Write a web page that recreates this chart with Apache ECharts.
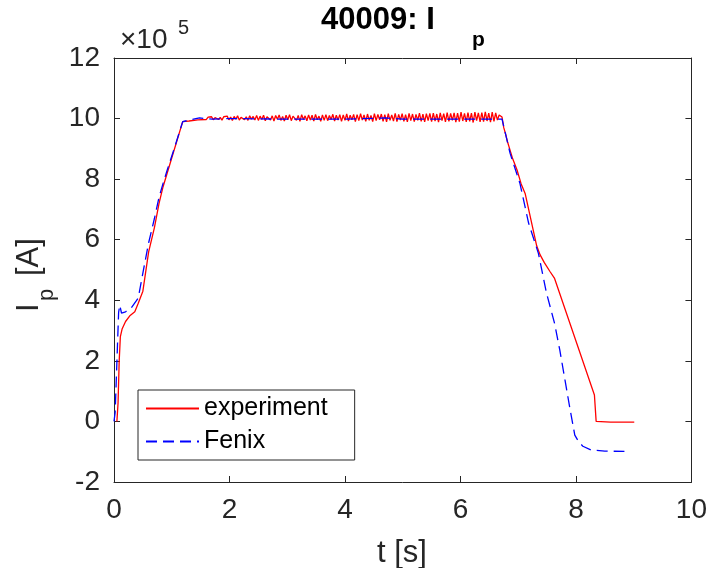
<!DOCTYPE html>
<html>
<head>
<meta charset="utf-8">
<script src="https://cdn.jsdelivr.net/npm/echarts@6/dist/echarts.min.js"></script>
<style>
html,body{margin:0;padding:0;background:#fff;}
#chart{width:710px;height:568px;}
</style>
</head>
<body>
<div id="chart"></div>
<script>
// Values in units of 1e5 A, time in s
var xTicks = [0, 2, 4, 6, 8, 10];
var yTicks = [-2, 0, 2, 4, 6, 8, 10, 12];

// experiment: rise phase
var expRiseT = [0.05, 0.07, 0.09, 0.11, 0.14, 0.20, 0.28, 0.36, 0.42, 0.50, 0.60, 0.70, 0.78, 0.85, 1.00, 1.19, 1.30, 1.45];
var expRiseI = [0.00, 0.60, 2.00, 2.80, 3.05, 3.30, 3.50, 3.62, 3.90, 4.30, 5.60, 6.40, 7.20, 7.75, 8.70, 9.90, 9.92, 9.96];
// experiment: flat-top (noisy), sampled every 0.03 s from 1.60 s
var expFlatStart = 1.60, expFlatStep = 0.03;
var expFlatI = [
 9.97, 10.05, 9.99, 10.06, 9.96, 10.03, 10.07, 9.97, 10.04, 9.95, 10.06, 10.00, 10.08, 9.96, 10.05, 9.94, 10.07, 9.98, 10.09, 9.95,
 10.04, 10.08, 9.96, 10.06, 9.94, 10.09, 9.98, 10.07, 9.95, 10.10,
 9.94, 10.08, 9.97, 10.11, 9.93, 10.06, 10.12, 9.95, 10.09, 9.92, 10.10, 9.98, 10.12, 9.94, 10.07, 9.92, 10.11, 9.96, 10.13, 9.93,
 10.08, 10.12, 9.94, 10.10, 9.91, 10.13, 9.97, 10.09, 9.93, 10.12, 9.95, 10.11, 9.92, 10.14, 9.96, 10.08, 9.91, 10.12, 9.94, 10.13,
 9.93, 10.10, 9.97, 10.14, 9.92, 10.11, 9.95, 10.13, 9.91, 10.12,
 9.94, 10.15, 9.92, 10.11, 9.96, 10.14, 9.90, 10.13, 9.93, 10.16, 9.95, 10.12, 9.91, 10.15, 9.94, 10.10, 9.90, 10.16, 9.93, 10.14,
 9.96, 10.15, 9.91, 10.13, 9.89, 10.16, 9.94, 10.12, 9.92, 10.17, 9.90, 10.14, 9.95, 10.16, 9.91, 10.13, 9.89, 10.17, 9.93, 10.15,
 9.90, 10.14, 9.94, 10.18, 9.91, 10.15, 9.89, 10.16, 9.93, 10.17,
 9.90, 10.18, 9.92, 10.15, 9.88, 10.19, 9.93, 10.16, 9.89, 10.20, 9.91, 10.17, 9.94, 10.19, 9.88, 10.18, 9.90, 10.21, 9.92, 10.17,
 9.89, 10.20, 9.91, 10.18, 9.87, 10.21, 9.93, 10.19, 9.89, 10.20, 9.90, 10.22, 9.92, 10.18, 9.88, 10.21, 9.91, 10.19, 9.95, 10.12
];
// experiment: ramp-down
var expFallT = [6.72, 6.75, 6.78, 6.82, 6.86, 6.90, 6.94, 6.98, 7.05, 7.12, 7.32, 7.38, 7.45, 7.55, 7.63, 8.32, 8.35, 8.60, 9.01];
var expFallI = [10.05, 9.70, 9.50, 9.20, 8.95, 8.70, 8.50, 8.30, 7.85, 7.53, 5.80, 5.50, 5.25, 4.95, 4.72, 0.87, 0.00, -0.02, -0.02];

// Fenix simulation
var fenixT = [0.00, 0.02, 0.08, 0.10, 0.13, 0.20, 0.30, 0.42, 0.50, 0.60, 0.70, 0.78, 0.85, 0.93, 1.05, 1.19, 1.48, 1.70, 2.00, 3.00, 4.00, 4.70, 5.00, 6.00, 6.72,
             6.75, 6.86, 7.03, 7.18, 7.35, 7.49, 7.63, 7.72, 7.81, 7.90, 7.98, 8.05, 8.12, 8.26, 8.50, 8.84];
var fenixI = [0.00, 0.30, 3.60, 3.84, 3.58, 3.62, 3.75, 4.07, 4.90, 5.90, 6.70, 7.40, 7.86, 8.35, 9.05, 9.90, 10.02, 9.98, 10.00, 9.98, 9.98, 10.02, 9.98, 9.98, 9.98,
              9.95, 8.85, 7.86, 6.55, 5.55, 4.24, 3.24, 2.36, 1.37, 0.38, -0.45, -0.68, -0.82, -0.94, -0.98, -0.99];

var expData = [];
for (var i = 0; i < expRiseT.length; i++) expData.push([expRiseT[i], expRiseI[i]]);
for (var j = 0; j < expFlatI.length; j++) expData.push([+(expFlatStart + j * expFlatStep).toFixed(3), expFlatI[j]]);
for (var k = 0; k < expFallT.length; k++) expData.push([expFallT[k], expFallI[k]]);
var fenixData = fenixT.map(function (t, i) { return [t, fenixI[i]]; });

var TXT = '#262626';
var FONT = 'Liberation Sans, Arial, Helvetica, sans-serif';
var chart = echarts.init(document.getElementById('chart'), null, {renderer: 'canvas'});

function axisCommon() {
  return {
    axisLine: {show: true, onZero: false, lineStyle: {color: TXT, width: 1}},
    axisTick: {show: true, inside: true, length: 6, lineStyle: {color: TXT, width: 1}},
    splitLine: {show: false}
  };
}

var option = {
  backgroundColor: '#fff',
  animation: false,
  grid: {left: 114, right: 14, top: 58, bottom: 86, containLabel: false},
  xAxis: [
    Object.assign({type: 'value', min: xTicks[0], max: xTicks[xTicks.length - 1], interval: 2, position: 'bottom',
      axisLabel: {color: TXT, fontSize: 28, fontFamily: FONT, margin: 14}}, axisCommon()),
    Object.assign({type: 'value', min: xTicks[0], max: xTicks[xTicks.length - 1], interval: 2, position: 'top',
      axisLabel: {show: false}}, axisCommon())
  ],
  yAxis: [
    Object.assign({type: 'value', min: yTicks[0], max: yTicks[yTicks.length - 1], interval: 2, position: 'left',
      axisLabel: {color: TXT, fontSize: 28, fontFamily: FONT, margin: 14}}, axisCommon()),
    Object.assign({type: 'value', min: yTicks[0], max: yTicks[yTicks.length - 1], interval: 2, position: 'right',
      axisLabel: {show: false}}, axisCommon())
  ],
  legend: {
    show: true, orient: 'vertical', left: 138, top: 390,
    itemWidth: 53, itemHeight: 14, itemGap: 8,
    padding: [6, 27, 6, 7],
    backgroundColor: '#fff', borderColor: TXT, borderWidth: 1, borderRadius: 0,
    textStyle: {color: '#000', fontSize: 25, fontFamily: FONT},
    itemStyle: {opacity: 0},
    data: ['experiment', 'Fenix']
  },
  series: [
    {name: 'experiment', type: 'line', data: expData, showSymbol: false, symbol: 'none',
      lineStyle: {color: '#ff0000', width: 1.3}, itemStyle: {color: '#ff0000'}, z: 2},
    {name: 'Fenix', type: 'line', data: fenixData, showSymbol: false, symbol: 'none',
      lineStyle: {color: '#0000ff', width: 1.3, type: [11, 6]}, itemStyle: {color: '#0000ff'}, z: 3}
  ],
  graphic: [
    {type: 'text', left: 321, top: 5, style: {text: '40009: I', font: 'bold 31px ' + FONT, fill: '#000'}},
    {type: 'text', left: 472, top: 30, style: {text: 'p', font: 'bold 21px ' + FONT, fill: '#000'}},
    {type: 'text', left: 120, top: 26, style: {text: '\u00d710', font: '28px ' + FONT, fill: TXT}},
    {type: 'text', left: 178, top: 18, style: {text: '5', font: '20px ' + FONT, fill: TXT}},
    {type: 'text', x: 29, y: 312, rotation: Math.PI / 2, style: {text: 'I', font: '31px ' + FONT, fill: TXT, align: 'left', verticalAlign: 'middle'}},
    {type: 'text', x: 47, y: 301, rotation: Math.PI / 2, style: {text: 'p', font: '22px ' + FONT, fill: TXT, align: 'left', verticalAlign: 'middle'}},
    {type: 'text', x: 29, y: 276, rotation: Math.PI / 2, style: {text: '[A]', font: '31px ' + FONT, fill: TXT, align: 'left', verticalAlign: 'middle'}},
    {type: 'text', x: 402, y: 553, style: {text: 't [s]', font: '31px ' + FONT, fill: TXT, align: 'center', verticalAlign: 'middle'}}
  ]
};
chart.setOption(option);
</script>
</body>
</html>
